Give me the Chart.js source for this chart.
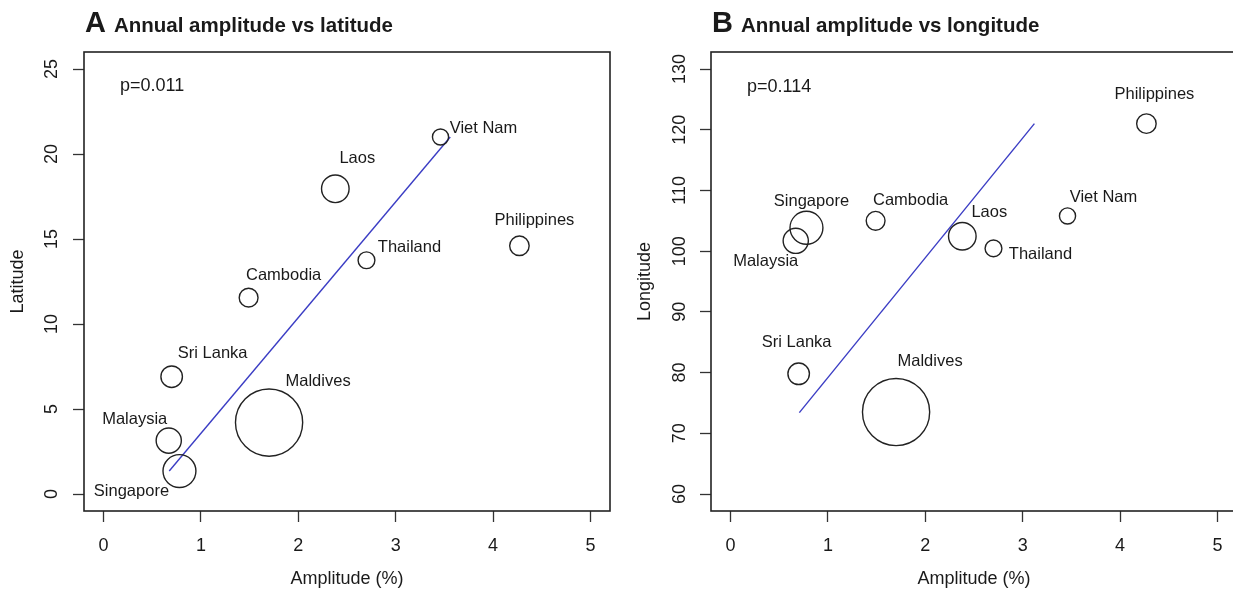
<!DOCTYPE html>
<html>
<head>
<meta charset="utf-8">
<script src="https://cdn.jsdelivr.net/npm/chart.js@4"></script>
<style>
  html, body { margin: 0; padding: 0; background: #fff; }
  body { width: 1233px; height: 591px; overflow: hidden; position: relative; font-family: "Liberation Sans", Arial, sans-serif; }
  .panel { position: absolute; top: 0; width: 620px; height: 591px; }
  .panel canvas { position: absolute; left: 0; top: 0; }
  .title { position: absolute; left: 85px; top: 8px; display: flex; align-items: baseline; white-space: nowrap; font-weight: bold; color: #1a1a1a; line-height: 1; }
  .tag { font-size: 29px; }
  .ttl { font-size: 20.5px; margin-left: 8px; }
</style>
</head>
<body>
<div class="panel" style="left:0px">
  <canvas id="chartA" width="620" height="591"></canvas>
  <div class="title"><span class="tag">A</span><span class="ttl">Annual amplitude vs latitude</span></div>
</div>
<div class="panel" style="left:627px">
  <canvas id="chartB" width="620" height="591"></canvas>
  <div class="title"><span class="tag">B</span><span class="ttl">Annual amplitude vs longitude</span></div>
</div>
<script>
const countries = ["Singapore", "Malaysia", "Sri Lanka", "Cambodia", "Maldives", "Laos", "Thailand", "Viet Nam", "Philippines"];
const amplitude = [0.78, 0.67, 0.70, 1.49, 1.70, 2.38, 2.70, 3.46, 4.27];
const latitude = [1.35, 3.14, 6.90, 11.55, 4.20, 17.95, 13.75, 21.00, 14.60];
const longitude = [103.85, 101.70, 79.80, 105.00, 73.50, 102.45, 100.45, 105.80, 121.00];
// relative circle size (Maldives = largest)
const circleSize = [0.49, 0.375, 0.32, 0.28, 1.00, 0.41, 0.25, 0.24, 0.29];

// fitted lines (amplitude on latitude / longitude), drawn over the observed range
const latFitAmp = [0.675, 3.56];
const latFitLat = [1.35, 21.0];
const lonFitAmp = [0.707, 3.12];
const lonFitLon = [73.4, 121.0];

const pValues = ["p=0.011", "p=0.114"];

const ampTicks = [0, 1, 2, 3, 4, 5];
const latTicks = [0, 5, 10, 15, 20, 25];
const lonTicks = [60, 70, 80, 90, 100, 110, 120, 130];

const maxRadius = 33.6;
const ink = "#1a1a1a";

// label offsets in px from circle centre (text centre)
const labelOffsetsA = [[-48, 20], [-34, -21], [41, -23], [35, -22], [49, -41], [22, -30], [43, -13], [43, -9], [15, -25]];
const labelOffsetsB = [[5, -26], [-30, 21], [-2, -31], [35, -20], [34, -51], [27, -24], [47, 6], [36, -18], [8, -29]];

const countryLabels = {
  id: "countryLabels",
  afterDatasetsDraw(chart, args, opts) {
    const ctx = chart.ctx;
    const xs = chart.scales.x, ys = chart.scales.y;
    ctx.save();
    ctx.fillStyle = ink;
    ctx.textAlign = "center";
    ctx.textBaseline = "middle";
    ctx.font = "16.5px 'Liberation Sans', Arial, sans-serif";
    countries.forEach((name, i) => {
      const px = xs.getPixelForValue(amplitude[i]) + opts.offsets[i][0];
      const py = ys.getPixelForValue(opts.yValues[i]) + opts.offsets[i][1];
      ctx.fillText(name, px, py);
    });
    ctx.font = "18px 'Liberation Sans', Arial, sans-serif";
    ctx.fillText(opts.pText, xs.getPixelForValue(opts.pPos[0]), ys.getPixelForValue(opts.pPos[1]));
    // plot frame
    const a = chart.chartArea;
    ctx.strokeStyle = "#222";
    ctx.lineWidth = 1.6;
    ctx.strokeRect(a.left, a.top, a.right - a.left, a.bottom - a.top);
    ctx.restore();
  }
};

function makePanel(id, yValues, yMin, yMax, yTicks, fitX, fitY, yTitle, yPad, offsets, pText, pPos) {
  const points = countries.map((c, i) => ({ x: amplitude[i], y: yValues[i], r: circleSize[i] * maxRadius }));
  const fit = fitX.map((x, i) => ({ x, y: fitY[i] }));
  return new Chart(document.getElementById(id), {
    type: "bubble",
    data: {
      datasets: [
        {
          data: points,
          backgroundColor: "rgba(0,0,0,0)",
          borderColor: "#222",
          borderWidth: 1.4,
          hoverBorderWidth: 1.4
        },
        {
          type: "line",
          data: fit,
          borderColor: "#3b3dc4",
          borderWidth: 1.4,
          pointRadius: 0,
          fill: false
        }
      ]
    },
    options: {
      responsive: false,
      animation: false,
      layout: { autoPadding: false, padding: { top: 52, right: 10, left: 0, bottom: 0 } },
      plugins: {
        legend: { display: false },
        tooltip: { enabled: false },
        countryLabels: { offsets, yValues, pText, pPos }
      },
      scales: {
        x: {
          type: "linear",
          min: -0.2,
          max: 5.2,
          afterBuildTicks: s => { s.ticks = ampTicks.map(v => ({ value: v })); },
          afterFit: s => { s.height = 80; },
          ticks: { color: ink, font: { size: 18, family: "'Liberation Sans', Arial" }, padding: 13, maxRotation: 0, autoSkip: false },
          grid: { drawOnChartArea: false, drawTicks: true, tickLength: 11, tickColor: "#333", tickWidth: 1.3 },
          border: { display: false },
          title: { display: true, text: "Amplitude (%)", color: ink, font: { size: 18, family: "'Liberation Sans', Arial" }, padding: { top: 0, bottom: 1 } }
        },
        y: {
          type: "linear",
          min: yMin,
          max: yMax,
          afterBuildTicks: s => { s.ticks = yTicks.map(v => ({ value: v })); },
          afterFit: s => { s.width = 84; },
          ticks: { color: ink, font: { size: 18, family: "'Liberation Sans', Arial" }, padding: yPad, minRotation: 90, maxRotation: 90, crossAlign: "center", autoSkip: false },
          grid: { drawOnChartArea: false, drawTicks: true, tickLength: 11, tickColor: "#333", tickWidth: 1.3 },
          border: { display: false },
          title: { display: true, text: yTitle, color: ink, font: { size: 18, family: "'Liberation Sans', Arial" }, padding: { top: 7, bottom: 0 } }
        }
      }
    },
    plugins: [countryLabels]
  });
}

makePanel("chartA", latitude, -1, 26, latTicks, latFitAmp, latFitLat, "Latitude", 11, labelOffsetsA, pValues[0], [0.5, 24]);
makePanel("chartB", longitude, 57.2, 132.8, lonTicks, lonFitAmp, lonFitLon, "Longitude", 5, labelOffsetsB, pValues[1], [0.5, 127]);
</script>
</body>
</html>
